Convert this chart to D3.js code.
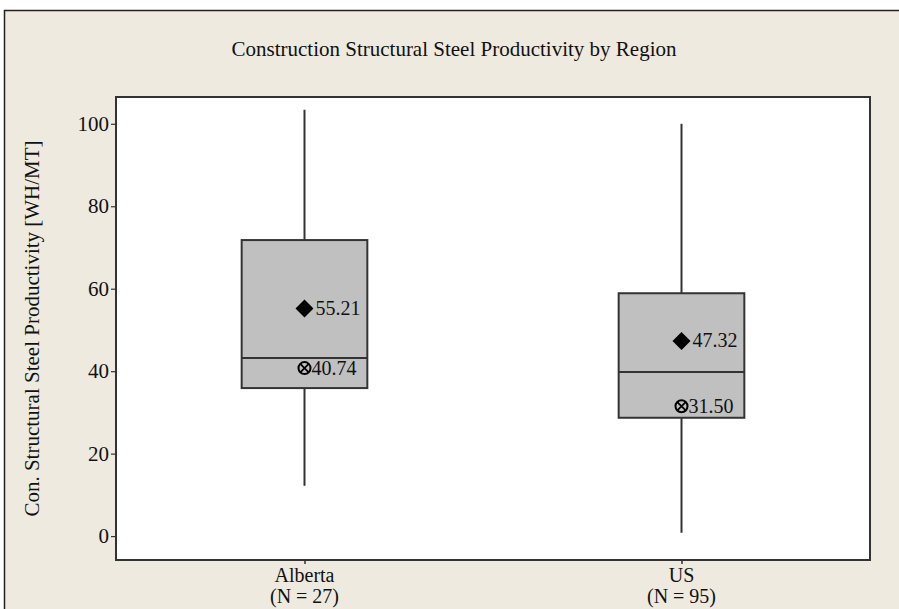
<!DOCTYPE html>
<html><head><meta charset="utf-8">
<script src="https://cdn.jsdelivr.net/npm/d3@7"></script>
<style>
html,body{margin:0;padding:0;background:#fff;overflow:hidden;}
svg text{font-family:"Liberation Serif","Times New Roman",serif;fill:#111;}
</style></head>
<body><svg id="c" width="899" height="609"></svg>
<script>
const categories = ["Alberta", "US"];
const counts = [27, 95];
const whiskerHigh = [103.4, 100.0];
const q3 = [71.8, 58.9];
const median = [43.2, 39.8];
const q1 = [35.9, 28.7];
const whiskerLow = [12.2, 0.8];
const means = [55.21, 47.32];
const geoMeans = [40.74, 31.50];
const yTicks = [0, 20, 40, 60, 80, 100];
const title = "Construction Structural Steel Productivity by Region";
const yLabel = "Con. Structural Steel Productivity [WH/MT]";

const svg = d3.select("#c");
// outer frame
svg.append("rect").attr("x",4.5).attr("y",10.5).attr("width",1000).attr("height",700)
  .attr("fill","#EEEAE0").attr("stroke","#222").attr("stroke-width",1.5);

const L=116, R=870, T=97, B=560;
svg.append("rect").attr("x",L).attr("y",T).attr("width",R-L).attr("height",B-T)
  .attr("fill","#fff");

const y = d3.scaleLinear().domain([-5.8,106.5]).range([B,T]);
const x = d3.scalePoint().domain(categories).range([L,R]).padding(0.5);
const bw = x.step()/3;

svg.append("text").attr("x",454).attr("y",56).attr("text-anchor","middle")
  .attr("font-size",21).text(title);

// y axis
const ya = svg.append("g").attr("transform",`translate(${L},0)`)
  .call(d3.axisLeft(y).tickValues(yTicks).tickSize(5).tickPadding(2).tickFormat(d3.format("d")));
ya.select(".domain").remove();
ya.selectAll("line").attr("stroke","#333").attr("stroke-width",1.2);
ya.selectAll("text").attr("font-size",21).attr("font-family","Liberation Serif").attr("fill","#111");

svg.append("text").attr("transform",`translate(39,${(T+B)/2}) rotate(-90)`)
  .attr("text-anchor","middle").attr("font-size",21).text(yLabel);

// x axis ticks & labels
const xa = svg.append("g").attr("transform",`translate(0,${B})`)
  .call(d3.axisBottom(x).tickSize(4).tickFormat(""));
xa.select(".domain").remove();
xa.selectAll("line").attr("stroke","#333").attr("stroke-width",1.5);
categories.forEach((c,i)=>{
  svg.append("text").attr("x",x(c)).attr("y",582).attr("text-anchor","middle").attr("font-size",20).text(c);
  svg.append("text").attr("x",x(c)).attr("y",603).attr("text-anchor","middle").attr("font-size",20).text(`(N = ${counts[i]})`);
});

// boxes
categories.forEach((c,i)=>{
  const cx = x(c);
  const g = svg.append("g");
  g.append("line").attr("x1",cx).attr("x2",cx).attr("y1",y(whiskerHigh[i])).attr("y2",y(q3[i]))
    .attr("stroke","#333").attr("stroke-width",2);
  g.append("line").attr("x1",cx).attr("x2",cx).attr("y1",y(q1[i])).attr("y2",y(whiskerLow[i]))
    .attr("stroke","#333").attr("stroke-width",2);
  g.append("rect").attr("x",cx-bw/2).attr("y",y(q3[i])).attr("width",bw).attr("height",y(q1[i])-y(q3[i]))
    .attr("fill","#C0C0C0").attr("stroke","#333").attr("stroke-width",2);
  g.append("line").attr("x1",cx-bw/2).attr("x2",cx+bw/2).attr("y1",y(median[i])).attr("y2",y(median[i]))
    .attr("stroke","#333").attr("stroke-width",2);
  // mean diamond
  const my = y(means[i]);
  g.append("path").attr("d",`M${cx},${my-9}L${cx+9},${my}L${cx},${my+9}L${cx-9},${my}Z`).attr("fill","#000");
  g.append("text").attr("x",cx+11).attr("y",my+6.5).attr("font-size",20).text(means[i].toFixed(2));
  // geo mean circle-x
  const gy = y(geoMeans[i]);
  g.append("circle").attr("cx",cx).attr("cy",gy).attr("r",6).attr("fill","none").attr("stroke","#000").attr("stroke-width",2);
  const d = 4.2;
  g.append("path").attr("d",`M${cx-d},${gy-d}L${cx+d},${gy+d}M${cx-d},${gy+d}L${cx+d},${gy-d}`)
    .attr("stroke","#000").attr("stroke-width",1.8);
  g.append("text").attr("x",cx+7).attr("y",gy+6.5).attr("font-size",20).text(geoMeans[i].toFixed(2));
});

// plot border
svg.append("rect").attr("x",L).attr("y",T).attr("width",R-L).attr("height",B-T)
  .attr("fill","none").attr("stroke","#333").attr("stroke-width",2);
</script></body></html>
